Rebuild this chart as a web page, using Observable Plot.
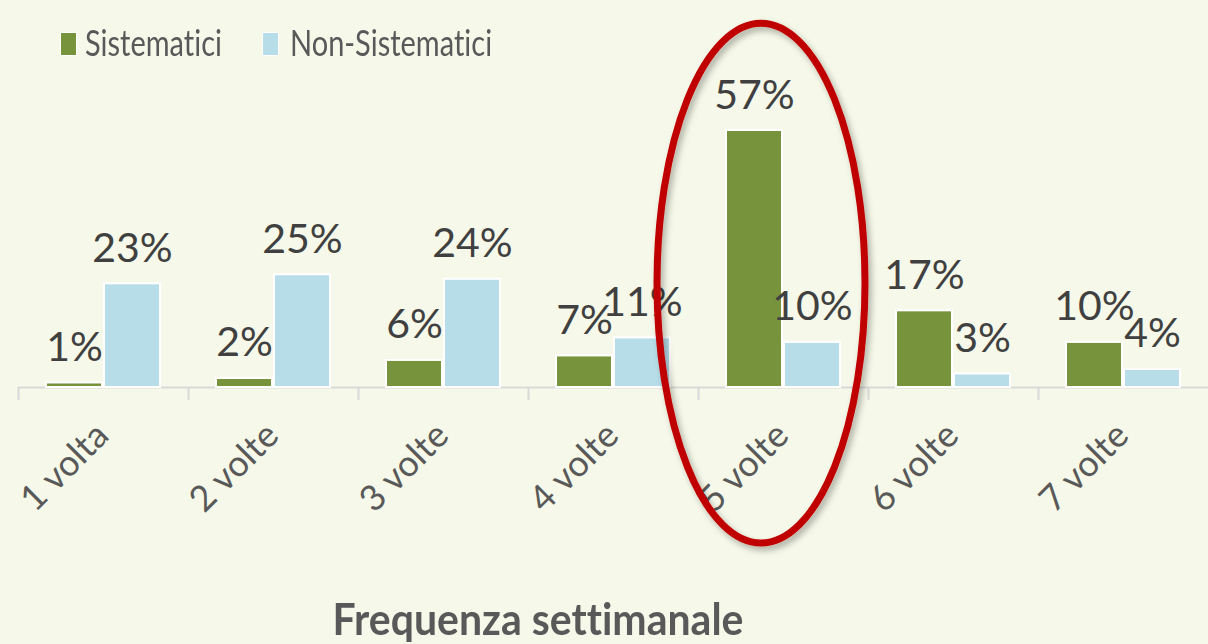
<!DOCTYPE html>
<html><head><meta charset="utf-8">
<script src="https://cdn.jsdelivr.net/npm/d3@7"></script>
<script src="https://cdn.jsdelivr.net/npm/@observablehq/plot@0.6"></script>
<style>
html,body{margin:0;padding:0;background:#f6f9e9;}
#wrap{position:relative;width:1208px;height:644px;overflow:hidden;font-family:Lato,sans-serif;background:#f6f9e9;font-variant-ligatures:none;}
#chart{position:absolute;left:0;top:0;}
#chart text{font-variant-ligatures:none;}
.lg{position:absolute;font-size:29px;line-height:1;color:#595959;white-space:nowrap;transform:scaleY(1.28);transform-origin:0 26px;}
.sw{position:absolute;width:15px;height:22px;border:1px solid #fff;}
#title{position:absolute;left:0;width:1076px;text-align:center;top:598px;font-size:41px;font-weight:bold;line-height:1.05;color:#595959;transform:scaleY(1.06);transform-origin:0 36px;}
</style>
</head><body>
<div id="wrap">
  <div id="chart"></div>
  <div id="legend"></div>
  <div id="title"></div>
</div>
<script>
const categories = ["1 volta","2 volte","3 volte","4 volte","5 volte","6 volte","7 volte"];
const series = ["Sistematici","Non-Sistematici"];
const sistematici = [1,2,6,7,57,17,10];
const nonSistematici = [23,25,24,11,10,3,4];
const colors = ["#77933c","#b7dde8"];
const axisTitle = "Frequenza settimanale";
const highlight = "5 volte";

const data = categories.flatMap((c,i)=>[
  {cat:c, serie:series[0], value:sistematici[i]},
  {cat:c, serie:series[1], value:nonSistematici[i]}
]);

const chart = Plot.plot({
  width:1208, height:580,
  marginLeft:18, marginRight:0, marginTop:130, marginBottom:193,
  style:{background:"transparent", fontFamily:"Lato, sans-serif", overflow:"visible"},
  fx:{domain:categories, padding:0, label:null},
  x:{domain:series, paddingInner:0.04, paddingOuter:0.47, axis:null},
  y:{domain:[0,57], axis:null},
  color:{domain:series, range:colors},
  marks:[
    Plot.ruleY([0], {stroke:"#d9d9d9", strokeWidth:2}),
    Plot.axisFx({anchor:"bottom", tickSize:13, text:null, dx:-85, stroke:"#d9d9d9", strokeWidth:2, label:null}),
    Plot.barY(data,{fx:"cat", x:"serie", y:"value", fill:"serie", stroke:"white", strokeWidth:2}),
    Plot.text(data,{fx:"cat", x:"serie", y:"value", text:d=>d.value+"%", lineAnchor:"bottom", dy:-22, fontSize:41, fill:"#404040"}),
    Plot.axisFx({anchor:"bottom", tickSize:0, tickRotate:-45, tickPadding:42, dx:-1, fontSize:36, color:"#595959", label:null})
  ]
});
document.getElementById("chart").appendChild(chart);

// highlight ellipse around the chosen category, positioned via the plot's scales
const fxs = chart.scale("fx");
const band = d3.scaleBand().domain(fxs.domain).range(fxs.range)
  .paddingInner(fxs.paddingInner ?? 0).paddingOuter(fxs.paddingOuter ?? 0).align(fxs.align ?? 0.5);
const ys = chart.scale("y");
const yl = d3.scaleLinear().domain(ys.domain).range(ys.range);
const cx = band(highlight) + band.bandwidth()/2 - 22;
const yTop = yl(80.7), yBot = yl(-34.6);
const svg = d3.select(chart);
const defs = svg.append("defs");
const f = defs.append("filter").attr("id","sh").attr("x","-20%").attr("y","-20%").attr("width","140%").attr("height","140%");
f.append("feDropShadow").attr("dx",3).attr("dy",4).attr("stdDeviation",3).attr("flood-color","#000").attr("flood-opacity",0.3);
svg.append("ellipse")
  .attr("cx",cx).attr("cy",(yTop+yBot)/2).attr("rx",104).attr("ry",(yBot-yTop)/2)
  .attr("fill","none").attr("stroke","#c00000").attr("stroke-width",7).attr("filter","url(#sh)");

// legend
const lg = document.getElementById("legend");
const lgPos = [{sw:60, tx:85},{sw:262, tx:290}];
series.forEach((s,i)=>{
  const sw = document.createElement("div");
  sw.className="sw"; sw.style.background=colors[i]; sw.style.left=lgPos[i].sw+"px"; sw.style.top="32px";
  lg.appendChild(sw);
  const t = document.createElement("div");
  t.className="lg"; t.textContent=s; t.style.left=lgPos[i].tx+"px"; t.style.top="30px";
  lg.appendChild(t);
});
document.getElementById("title").textContent = axisTitle;
</script>
</body></html>
